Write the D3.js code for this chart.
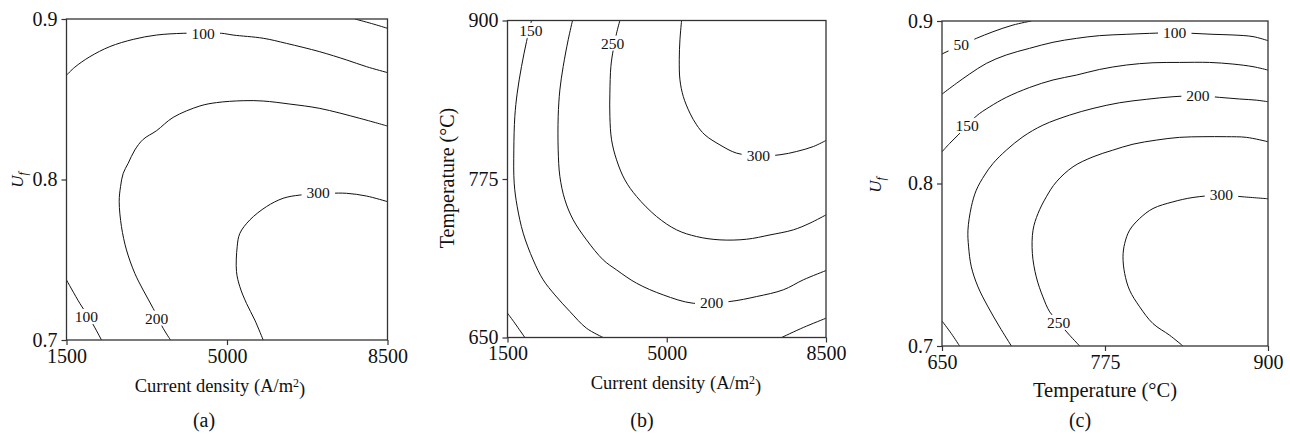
<!DOCTYPE html>
<html>
<head>
<meta charset="utf-8">
<script src="https://cdn.jsdelivr.net/npm/d3@7"></script>
<style>
    body { margin: 0; background: #fff; }
    text { font-family: "Liberation Serif", "Times New Roman", serif; fill: #111; }
</style>
</head>
<body>
<svg id="chart" width="1290" height="434"></svg>
<script>

// tick values
var densityTicks = [1500, 5000, 8500];
var ufTicks = [0.7, 0.8, 0.9];
var tempTicks = [650, 775, 900];

// (a) current density vs Uf  -- contour lines
var a100Top = [[1500,0.865],[1682,0.870],[2009,0.8765],[2445,0.8828],[2954,0.8873],[3463,0.8900],[4044,0.8911],[4480,0.8912],
    [4880,0.8911],[5134,0.8900],[5789,0.8880],[6298,0.8848],[7024,0.8796],[7606,0.8745],[8042,0.8703],[8500,0.8666]];
var aCorner = [[7788,0.9],[8150,0.8972],[8500,0.8942]];
var a200 = [[8500,0.8333],[7897,0.8381],[7024,0.8443],[6370,0.8470],[5789,0.8489],[5353,0.8491],[4771,0.8479],[4408,0.8458],
    [3826,0.8387],[3463,0.8304],[3172,0.8250],[2990,0.8184],[2845,0.8101],[2736,0.8038],[2678,0.7955],[2649,0.7862],
    [2699,0.7706],[2808,0.7561],[2990,0.7415],[3172,0.7311],[3390,0.7197],[3608,0.7073],[3768,0.7]];
var a300 = [[8500,0.7862],[8042,0.7897],[7606,0.7914],[7243,0.7914],[6588,0.7903],[6225,0.7883],[5861,0.7831],[5498,0.7748],
    [5280,0.7664],[5222,0.7581],[5207,0.7426],[5280,0.7332],[5425,0.7228],[5607,0.7124],[5789,0.7]];
var a100Low = [[1500,0.7374],[1791,0.7228],[2045,0.7114],[2263,0.7]];
var aLabels = [["100",4480,0.8911],["300",6988,0.7916],["200",3463,0.7135],["100",1936,0.7145]];

// (b) current density vs temperature
var b150 = [[2028,900],[1918,883.4],[1808,863.7],[1713,842.7],[1661,824.3],[1639,798.0],[1647,771.7],[1713,753.3],[1845,732.3],
    [2064,711.2],[2284,695.5],[2541,683.6],[2871,670.5],[3237,657.3],[3604,650]];
var b200 = [[2929,900],[2834,884.8],[2724,863.7],[2651,845.3],[2614,824.3],[2614,798.0],[2651,777.0],[2761,758.6],[2944,742.8],
    [3237,727.0],[3604,711.2],[3897,703.3],[4337,692.8],[4923,683.6],[5583,677.0],[6389,678.4],[6976,682.3],[7562,687.6],
    [8002,695.5],[8500,702.8]];
var b250 = [[3970,900],[3897,890.0],[3824,876.9],[3772,863.7],[3750,842.7],[3750,824.3],[3787,805.9],[3897,790.1],[4080,774.3],
    [4337,761.2],[4777,745.4],[5216,734.9],[5656,729.6],[6169,727.0],[6756,727.5],[7269,730.9],[7782,734.9],[8148,740.2],[8500,746.7]];
var b300 = [[5326,900],[5290,884.8],[5275,869.0],[5290,853.2],[5363,840.1],[5510,826.9],[5656,817.7],[5839,809.8],[6169,801.9],
    [6536,795.4],[7012,793.3],[7489,794.1],[7855,796.7],[8222,800.6],[8500,805.4]];
var bLowLeft = [[1500,669.2],[1661,661.3],[1881,650]];
var bLowRight = [[7525,650],[8002,657.9],[8500,665.2]];
var bLabels = [["150",2013,892],["250",3809,882],["300",7012,793.5],["200",5986,677.2]];

// (c) temperature vs Uf
var c50 = [[650,0.8797],[663.5,0.8848],[676.3,0.8893],[689.1,0.8934],[704.4,0.8975],[718.5,0.9]];
var c100 = [[650,0.8550],[661.0,0.8616],[671.2,0.8674],[684.0,0.8739],[699.3,0.8791],[717.2,0.8832],[735.1,0.8869],[753.0,0.8893],
    [770.9,0.8910],[791.3,0.8918],[809.2,0.8924],[828.4,0.8928],[842.5,0.8924],[857.8,0.8918],[873.1,0.8914],[888.5,0.8904],[900,0.8879]];
var c150 = [[650,0.8195],[655.9,0.8247],[662.3,0.8298],[669.2,0.8355],[676.3,0.8415],[686.6,0.8472],[699.3,0.8530],[717.2,0.8591],
    [735.1,0.8637],[753.0,0.8667],[770.9,0.8702],[791.3,0.8729],[811.8,0.8743],[832.2,0.8745],[855.2,0.8745],[873.1,0.8735],
    [888.5,0.8719],[900,0.8698]];
var c200 = [[703.2,0.7],[694.2,0.7117],[685.3,0.7241],[677.6,0.7364],[672.5,0.7487],[670.4,0.7610],[669.9,0.7713],[672.5,0.7857],
    [676.3,0.7959],[682.7,0.8052],[689.1,0.8123],[699.3,0.8205],[712.1,0.8288],[727.4,0.8359],[747.9,0.8421],[765.8,0.8462],
    [786.2,0.8497],[806.7,0.8518],[827.1,0.8534],[846.3,0.8540],[862.9,0.8530],[878.3,0.8520],[891.0,0.8513],[900,0.8503]];
var c250 = [[755.6,0.7],[747.9,0.7066],[739.5,0.7144],[732.6,0.7210],[727.4,0.7302],[722.3,0.7425],[719.3,0.7569],[719.8,0.7713],
    [723.6,0.7815],[730.0,0.7918],[737.7,0.8010],[750.5,0.8103],[765.8,0.8164],[780.9,0.8205],[796.5,0.8242],[814.3,0.8267],
    [832.2,0.8284],[850.1,0.8288],[868.0,0.8288],[883.4,0.8284],[900,0.8257]];
var c300 = [[834.8,0.7],[824.6,0.7066],[811.8,0.7138],[801.6,0.7241],[793.9,0.7343],[790.1,0.7446],[788.8,0.7549],[790.1,0.7631],
    [793.9,0.7713],[801.6,0.7785],[811.8,0.7846],[827.1,0.7887],[842.5,0.7914],[864.2,0.7928],[880.8,0.7918],[900,0.7906]];
var cLowLeft = [[650,0.7154],[657.2,0.7076],[663.5,0.7]];
var cLabels = [["50",664.8,0.8856],["100",828.4,0.8928],["150",669.2,0.8355],["200",846.3,0.8540],["250",739.5,0.7144],["300",864.2,0.7928]];

var svg = d3.select("#chart");

// panel layout
var panels = [
    { id: "a", left: 66.5, right: 387.5, top: 19, bottom: 340,
      xDomain: [1500, 8500], yDomain: [0.7, 0.9], xTicks: densityTicks, yTicks: ufTicks,
      xFmt: d3.format("d"), yFmt: d3.format(".1f"),
      lines: [a100Top, aCorner, a200, a300, a100Low], labels: aLabels,
      xTitle: "density", xTitleX: 220, xTitleY: 392, xTitleSize: 18.5,
      yTitle: "uf", yTitleX: 17, yTitleY: 180, capX: 204 },
    { id: "b", left: 507.5, right: 826, top: 20.5, bottom: 337.5,
      xDomain: [1500, 8500], yDomain: [650, 900], xTicks: densityTicks, yTicks: tempTicks,
      xFmt: d3.format("d"), yFmt: d3.format("d"),
      lines: [b150, b200, b250, b300, bLowLeft, bLowRight], labels: bLabels,
      xTitle: "density", xTitleX: 676, xTitleY: 389, xTitleSize: 18.5,
      yTitle: "temp", yTitleX: 447, yTitleY: 178, capX: 642 },
    { id: "c", left: 942, right: 1268, top: 21, bottom: 346,
      xDomain: [650, 900], yDomain: [0.7, 0.9], xTicks: tempTicks, yTicks: ufTicks,
      xFmt: d3.format("d"), yFmt: d3.format(".1f"),
      lines: [c50, c100, c150, c200, c250, c300, cLowLeft], labels: cLabels,
      xTitle: "temp", xTitleX: 1105, xTitleY: 397, xTitleSize: 20.5,
      yTitle: "uf", yTitleX: 875, yTitleY: 185, capX: 1080 }
];

panels.forEach(function(p) {

    var xScale = d3.scaleLinear().domain(p.xDomain).range([p.left, p.right]);
    var yScale = d3.scaleLinear().domain(p.yDomain).range([p.bottom, p.top]);

    // clip for contours
    svg.append("clipPath")
        .attr("id", "clip-" + p.id)
        .append("rect")
        .attr("x", p.left).attr("y", p.top)
        .attr("width", p.right - p.left).attr("height", p.bottom - p.top);

    var g = svg.append("g");

    var line = d3.line()
        .x(d => xScale(d[0]))
        .y(d => yScale(d[1]))
        .curve(d3.curveCatmullRom.alpha(0.5));

    var contourGroup = g.append("g").attr("clip-path", "url(#clip-" + p.id + ")");

    contourGroup.selectAll("path")
        .data(p.lines)
        .enter()
        .append("path")
        .attr("d", line)
        .attr("fill", "none")
        .attr("stroke", "#111")
        .attr("stroke-width", 1);

    // contour labels with white box to break the line
    p.labels.forEach(function(l) {
        var lg = contourGroup.append("g");
        var t = lg.append("text")
            .attr("x", xScale(l[1]))
            .attr("y", yScale(l[2]))
            .attr("dy", "0.34em")
            .attr("text-anchor", "middle")
            .attr("font-size", "15.5px")
            .text(l[0]);
        var bb = t.node().getBBox();
        lg.insert("rect", "text")
            .attr("x", bb.x - 5).attr("y", bb.y + 1)
            .attr("width", bb.width + 10).attr("height", bb.height - 2)
            .attr("fill", "#fff");
    });

    // frame
    g.append("rect")
        .attr("x", p.left).attr("y", p.top)
        .attr("width", p.right - p.left).attr("height", p.bottom - p.top)
        .attr("fill", "none")
        .attr("stroke", "#333")
        .attr("stroke-width", 1.3);

    // axes
    var bottomAxis = d3.axisBottom(xScale).tickValues(p.xTicks).tickFormat(p.xFmt)
        .tickSizeInner(5).tickSizeOuter(0).tickPadding(3.3);
    var leftAxis = d3.axisLeft(yScale).tickValues(p.yTicks).tickFormat(p.yFmt)
        .tickSizeInner(5).tickSizeOuter(0).tickPadding(4);

    var xg = g.append("g").attr("transform", `translate(0, ${p.bottom})`).call(bottomAxis);
    var yg = g.append("g").attr("transform", `translate(${p.left}, 0)`).call(leftAxis);

    [xg, yg].forEach(function(ax) {
        ax.select(".domain").remove();
        ax.selectAll("line").attr("stroke", "#333").attr("stroke-width", 1.2);
        ax.selectAll("text")
            .attr("font-family", "Liberation Serif, Times New Roman, serif")
            .attr("font-size", "20px")
            .attr("fill", "#111");
    });

    // x title
    var xt = svg.append("text")
        .attr("x", p.xTitleX)
        .attr("y", p.xTitleY)
        .attr("text-anchor", "middle")
        .attr("font-size", p.xTitleSize + "px");
    if (p.xTitle === "density") {
        xt.append("tspan").text("Current density (A/m");
        xt.append("tspan").attr("dy", "-0.45em").attr("font-size", "0.65em").text("2");
        xt.append("tspan").attr("dy", "0.45em").text(")");
    } else {
        xt.text("Temperature (°C)");
    }

    // y title
    var yt = svg.append("text")
        .attr("transform", `translate(${p.yTitleX}, ${p.yTitleY}) rotate(-90)`)
        .attr("text-anchor", "middle")
        .attr("dy", "0.35em");
    if (p.yTitle === "uf") {
        yt.attr("font-size", "17px");
        yt.append("tspan").attr("font-style", "italic").text("U");
        yt.append("tspan").attr("font-style", "italic").attr("font-size", "0.7em").attr("dy", "0.3em").text("f");
    } else {
        yt.attr("font-size", "20px").text("Temperature (°C)");
    }

    // panel caption
    svg.append("text")
        .attr("x", p.capX)
        .attr("y", 427)
        .attr("text-anchor", "middle")
        .attr("font-size", "20px")
        .text("(" + p.id + ")");
});

</script>
</body>
</html>
